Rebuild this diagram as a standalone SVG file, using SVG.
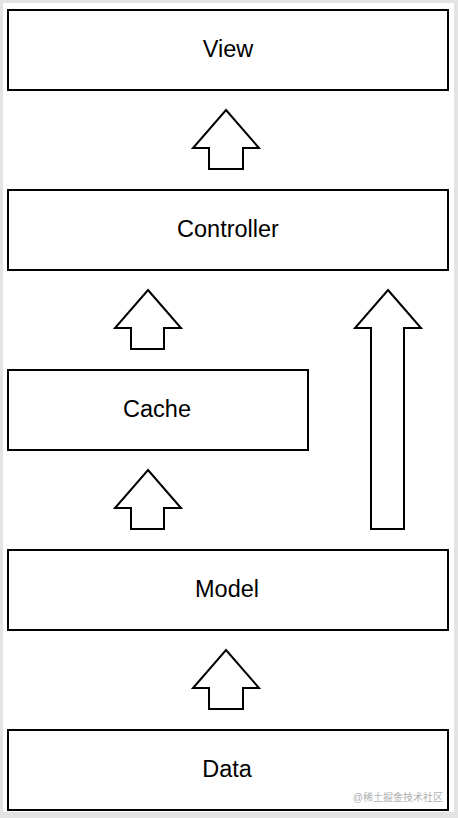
<svg xmlns="http://www.w3.org/2000/svg" width="458" height="818" viewBox="0 0 458 818">
<style>
.box{fill:#fff;stroke:#000;stroke-width:2}
.arr{fill:#fff;stroke:#000;stroke-width:2;stroke-linejoin:miter}
.lbl{font-family:"Liberation Sans",Arial,sans-serif;font-size:23.5px;fill:#000;text-anchor:middle}
.wm{font-family:"Liberation Sans","Noto Sans CJK SC",sans-serif;font-size:10px;fill:#b0b0b0;text-anchor:end}
</style>
<rect x="0" y="0" width="458" height="818" fill="#e3e3e3"/>
<rect x="3" y="3" width="451" height="809" fill="#fff"/>
<g id="view"><rect class="box" x="8" y="10" width="440" height="80"/><text class="lbl" x="228" y="57">View</text></g>
<g id="controller"><rect class="box" x="8" y="190" width="440" height="80"/><text class="lbl" x="228" y="237">Controller</text></g>
<g id="cache"><rect class="box" x="8" y="370" width="300" height="80"/><text class="lbl" x="157" y="417">Cache</text></g>
<g id="model"><rect class="box" x="8" y="550" width="440" height="80"/><text class="lbl" x="227" y="597">Model</text></g>
<g id="data"><rect class="box" x="8" y="730" width="440" height="80"/><text class="lbl" x="227" y="777">Data</text></g>
<g id="connectors">
<polygon class="arr" points="226,110 259,148 243,148 243,169 209,169 209,148 193,148"/>
<polygon class="arr" points="148,290 181,328 164,328 164,349 131,349 131,328 115,328"/>
<polygon class="arr" points="148,470 181,508 164,508 164,529 131,529 131,508 115,508"/>
<polygon class="arr" points="226,650 259,688 243,688 243,709 209,709 209,688 193,688"/>
<polygon class="arr" points="388,290 421,328 404,328 404,529 371,529 371,328 355,328"/>
</g>
<text class="wm" x="443" y="801">@稀土掘金技术社区</text>
</svg>
